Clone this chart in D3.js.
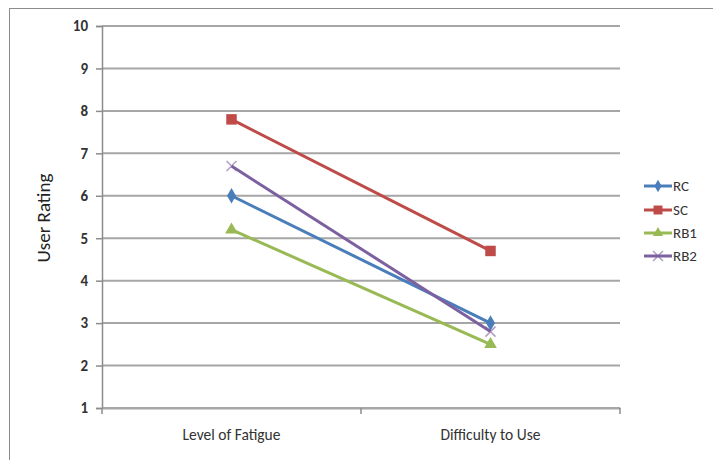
<!DOCTYPE html>
<html><head><meta charset="utf-8">
<script src="https://cdn.jsdelivr.net/npm/d3@7"></script>
<style>body{margin:0;background:#fff}svg{display:block}text{font-family:Carlito,"Liberation Sans Narrow","Open Sans",sans-serif}</style>
</head><body>
<svg id="c" width="713" height="460"></svg>
<script>
const categories = ["Level of Fatigue", "Difficulty to Use"];
const seriesNames = ["RC", "SC", "RB1", "RB2"];
const RC = [6.0, 3.0];
const SC = [7.8, 4.7];
const RB1 = [5.2, 2.5];
const RB2 = [6.7, 2.8];
const yTicks = [1,2,3,4,5,6,7,8,9,10];
const colors = ["#4a7ebb", "#be4b48", "#98b954", "#7d60a0"];
const symbols = [d3.symbolDiamond, d3.symbolSquare, d3.symbolTriangle, null];
const values = [RC, SC, RB1, RB2];

const svg = d3.select("#c");
svg.append("rect").attr("x",9.5).attr("y",8.5).attr("width",710).attr("height",460).attr("fill","#fff").attr("stroke","#8c8c8c").attr("stroke-width",1);

const L = 102, R = 620, T = 26, B = 408;
const x = d3.scaleBand().domain(categories).range([L, R]);
const y = d3.scaleLinear().domain([1, 10]).range([B, T]);

svg.append("g").selectAll("line").data(yTicks).join("line")
  .attr("x1", L).attr("x2", R).attr("y1", d=>y(d)).attr("y2", d=>y(d))
  .attr("stroke", "#a6a6a6").attr("stroke-width", 2);

const yAxis = svg.append("g").attr("transform", `translate(${L},0)`)
  .call(d3.axisLeft(y).tickValues(yTicks).tickSize(6).tickPadding(8).tickFormat(d3.format("d")));
yAxis.select(".domain").attr("stroke","#8c8c8c").attr("stroke-width",1.5);
yAxis.selectAll(".tick line").attr("stroke","#8c8c8c").attr("stroke-width",1.5);
yAxis.selectAll("text").attr("font-size",15).attr("font-weight","bold").attr("fill","#333");

const xAxis = svg.append("g").attr("transform", `translate(0,${B})`)
  .call(d3.axisBottom(x).tickSize(0).tickPadding(21));
xAxis.select(".domain").attr("stroke","#a6a6a6").attr("stroke-width",2);
xAxis.selectAll("text").attr("font-size",15.5).attr("fill","#333");
svg.append("g").selectAll("line").data([L, L + x.step(), R]).join("line")
  .attr("x1", d=>d).attr("x2", d=>d).attr("y1", B).attr("y2", B+6)
  .attr("stroke","#8c8c8c").attr("stroke-width",1.5);

svg.append("text").attr("transform","translate(50,218) rotate(-90)")
  .attr("text-anchor","middle").attr("font-size",19).attr("fill","#222").text("User Rating");

const line = d3.line().x((d,i)=>x(categories[i]) + x.bandwidth()/2).y(d=>y(d));

function drawMarker(g, k, cx, cy, sz) {
  if (symbols[k]) {
    g.append("path").attr("d", d3.symbol().type(symbols[k]).size(sz)())
      .attr("transform", `translate(${cx},${cy})`).attr("fill", colors[k]);
  } else {
    g.append("path").attr("d", `M${cx-5},${cy-5}L${cx+5},${cy+5}M${cx-5},${cy+5}L${cx+5},${cy-5}`)
      .attr("stroke", colors[k]).attr("stroke-width", 1.5).attr("opacity", 0.6);
  }
}

values.forEach((vals, k) => {
  const g = svg.append("g");
  g.append("path").datum(vals).attr("d", line).attr("fill","none")
    .attr("stroke", colors[k]).attr("stroke-width", 3);
  vals.forEach((v, i) => drawMarker(g, k, x(categories[i]) + x.bandwidth()/2, y(v), k===1 ? 110 : 70));
});

const legY = [186, 210, 233, 256];
seriesNames.forEach((nm, k) => {
  const g = svg.append("g");
  g.append("line").attr("x1",644).attr("x2",672).attr("y1",legY[k]).attr("y2",legY[k])
    .attr("stroke", colors[k]).attr("stroke-width", 3);
  drawMarker(g, k, 658, legY[k], k===1 ? 80 : 45);
  g.append("text").attr("x",673).attr("y",legY[k]).attr("dy","0.35em")
    .attr("font-size",15).attr("fill","#333").text(nm);
});
</script>
</body></html>
